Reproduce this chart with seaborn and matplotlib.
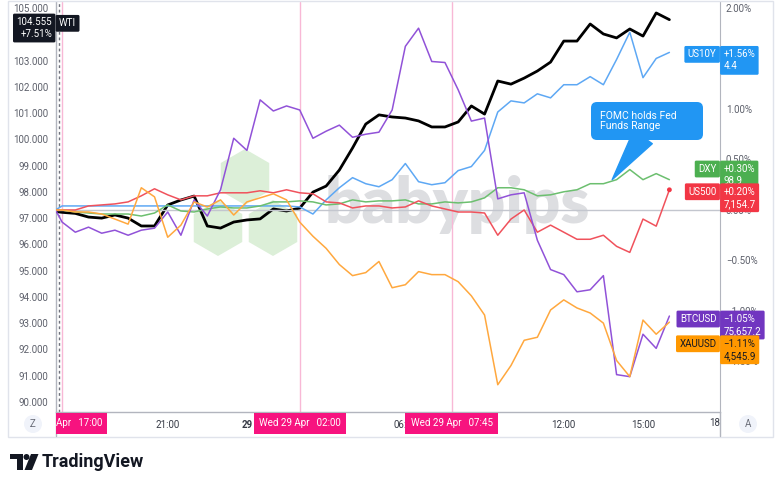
import numpy as np
import pandas as pd
import seaborn as sns
import matplotlib.pyplot as plt
import matplotlib.dates as mdates
import matplotlib.transforms as mtransforms
from matplotlib.patches import Rectangle, RegularPolygon, Circle, Polygon, FancyBboxPatch
from matplotlib.lines import Line2D
from matplotlib.ticker import FuncFormatter

# 30-minute closes, Tue 28 Apr 16:45 -> Wed 29 Apr 16:00
times = pd.to_datetime(['2026-04-28 16:45']).append(
    pd.date_range('2026-04-28 17:00', '2026-04-29 16:00', freq='30min'))

# WTI price (left scale)
wti = [97.25, 97.22, 97.18, 97.04, 97.00, 97.12, 97.00, 96.70, 96.70, 97.50,
       97.69, 97.84, 96.70, 96.62, 96.85, 96.93, 96.97, 97.35, 97.27, 97.38,
       97.99, 98.22, 98.83, 99.67, 100.58, 100.93, 100.85, 100.81, 100.70, 100.47,
       100.47, 100.66, 101.27, 100.96, 102.22, 102.10, 102.33, 102.60, 102.94, 103.74,
       103.74, 104.39, 104.01, 103.86, 104.20, 103.93, 104.81, 104.555]

# comparison symbols, % change (right scale)
us10y = [0.00, 0.04, 0.04, 0.04, 0.04, 0.04, 0.04, 0.04, 0.04, 0.04,
         0.04, 0.04, 0.04, 0.04, 0.04, 0.04, 0.04, 0.04, 0.04, 0.03,
         -0.04, 0.10, 0.22, 0.32, 0.26, 0.23, 0.30, 0.46, 0.28, 0.25,
         0.27, 0.39, 0.43, 0.59, 0.97, 1.08, 1.06, 1.15, 1.11, 1.24,
         1.24, 1.32, 1.24, 1.49, 1.76, 1.31, 1.50, 1.56]
dxy = [0.00, 0.00, -0.02, -0.03, -0.04, -0.04, -0.04, -0.06, -0.03, 0.05,
       -0.01, -0.02, 0.01, 0.03, 0.02, 0.02, 0.04, 0.08, 0.08, 0.09,
       0.08, 0.05, 0.06, 0.10, 0.08, 0.09, 0.09, 0.10, 0.06, 0.06,
       0.08, 0.07, 0.08, 0.12, 0.22, 0.22, 0.20, 0.14, 0.15, 0.18,
       0.20, 0.26, 0.26, 0.30, 0.40, 0.30, 0.36, 0.30]
us500 = [0.00, 0.00, 0.00, 0.04, 0.05, 0.06, 0.08, 0.14, 0.21, 0.15,
         0.10, 0.14, 0.14, 0.17, 0.17, 0.17, 0.19, 0.17, 0.20, 0.17,
         0.16, 0.08, 0.07, 0.02, 0.04, 0.04, 0.02, 0.03, 0.09, 0.04,
         0.01, -0.02, -0.02, -0.03, -0.25, -0.09, 0.00, -0.22, -0.15, -0.22,
         -0.29, -0.29, -0.25, -0.36, -0.42, -0.09, -0.16, 0.20]
btcusd = [0.00, -0.12, -0.22, -0.17, -0.23, -0.20, -0.25, -0.20, -0.18, -0.02,
          -0.25, 0.10, -0.06, 0.20, 0.71, 0.59, 1.09, 0.98, 1.03, 0.99,
          0.71, 0.78, 0.84, 0.72, 0.75, 0.77, 0.99, 1.62, 1.80, 1.47,
          1.46, 1.19, 0.88, 0.91, 0.11, 0.15, 0.17, -0.30, -0.59, -0.64,
          -0.81, -0.79, -0.65, -1.63, -1.65, -1.23, -1.37, -1.05]
xauusd = [0.00, 0.00, -0.02, -0.02, -0.04, -0.09, -0.14, 0.22, 0.13, -0.27,
          -0.15, 0.08, 0.03, 0.10, -0.05, 0.08, 0.12, 0.16, 0.10, -0.12,
          -0.26, -0.38, -0.54, -0.65, -0.62, -0.51, -0.77, -0.74, -0.61, -0.64,
          -0.64, -0.71, -0.85, -1.04, -1.73, -1.54, -1.29, -1.26, -0.99, -0.89,
          -0.97, -1.02, -1.12, -1.49, -1.65, -1.09, -1.23, -1.11]

symbols = ['US10Y', 'DXY', 'US500', 'BTCUSD', 'XAUUSD']
series = [us10y, dxy, us500, btcusd, xauusd]
last_prices = ['4.4', '98.9', '7,154.7', '75,657.2', '4,545.9']
line_colors = ['#5ea8f4', '#6cbf6f', '#f0525c', '#9152d8', '#ffa83e']
box_colors = ['#2196f3', '#4caf50', '#f23645', '#7136c0', '#ff9800']
box_text = ['white', 'white', 'white', 'white', '#131722']
label_nudge = [0.03, 0.155, 0.03, 0.02, -0.165]

# price ticks (104.000 and 1.50% sit under the last-value boxes)
left_ticks = [90, 91, 92, 93, 94, 95, 96, 97, 98, 99, 100, 101, 102, 103, 105]
right_ticks = [-1.5, -1.0, -0.5, 0.0, 0.5, 1.0, 2.0]

x_ticks = pd.to_datetime(['2026-04-28 21:00', '2026-04-29 00:00', '2026-04-29 06:00',
                          '2026-04-29 12:00', '2026-04-29 15:00'])
x_tick_labels = ['21:00', '29', '06:00', '12:00', '15:00']
event_times = pd.to_datetime(['2026-04-28 17:00', '2026-04-29 02:00', '2026-04-29 07:45'])
event_labels = ['Apr   17:00', 'Wed 29 Apr   02:00', 'Wed 29 Apr   07:45']
fomc_time = pd.Timestamp('2026-04-29 13:50')

df = pd.DataFrame({
    'time': np.tile(times, len(symbols)),
    'symbol': np.repeat(symbols, len(times)),
    'pct': np.concatenate(series),
})

sns.set_style('white')
plt.rcParams['font.family'] = ['Roboto', 'DejaVu Sans']

W, H = 780, 487
fig = plt.figure(figsize=(7.8, 4.87), dpi=100)
ax = fig.add_axes([55.5 / W, 75 / H, 664.5 / W, 410 / H])
ax2 = ax.twinx()
px = mtransforms.IdentityTransform()

spine_c = '#b2b5be'
tick_c = '#5d606b'

# watermark
for cx, cy in [(245, 177), (218, 228), (273, 228)]:
    ax.add_patch(RegularPolygon((cx, H - cy), numVertices=6, radius=28, orientation=0,
                                transform=px, fc='#dcefd8', ec='none', zorder=0.3))
ax.text(325, H - 223, 'babypips', transform=px, fontsize=47, fontweight='heavy',
        family='Lato', color='#dddee1', ha='left', va='baseline', zorder=0.4)

# guide lines
ax2.axhline(0, color='#c3c6ce', lw=1, zorder=1)
for t in event_times:
    ax.axvline(t, color='#f8b8d6', lw=1, zorder=1)
ax.axvline(pd.Timestamp('2026-04-28 16:53'), color='#6f727c', lw=1, ls=(0, (2, 2)), zorder=1)

# series
sns.lineplot(x=times, y=wti, ax=ax, color='black', linewidth=2, zorder=3)
sns.lineplot(data=df, x='time', y='pct', hue='symbol', hue_order=symbols,
             palette=dict(zip(symbols, line_colors)), ax=ax2, legend=False,
             linewidth=1.1)
sns.scatterplot(x=times[-1:], y=us500[-1:], ax=ax2, color='#f23645', s=12,
                edgecolor='none', zorder=4)

# axes scales
ax.set_xlim(pd.Timestamp('2026-04-28 16:45'), pd.Timestamp('2026-04-29 17:55'))
ax.set_ylim(89.619, 105.227)
ax2.set_ylim(-2.0, 2.059)
ax.set_xlabel('')
ax.set_ylabel('')
ax2.set_ylabel('')

ax.set_yticks(left_ticks)
ax.yaxis.set_major_formatter(FuncFormatter(lambda v, _: f'{v:.3f}'))
ax2.set_yticks(right_ticks)
ax2.yaxis.set_major_formatter(FuncFormatter(lambda v, _: f'{v:.2f}%'.replace('-', '\u2212')))
ax.set_xticks(x_ticks)
ax.set_xticklabels(x_tick_labels)
ax.get_xticklabels()[1].set_fontweight('bold')
ax.tick_params(axis='y', length=0, pad=5, labelsize=7, labelcolor=tick_c)
ax2.tick_params(axis='y', length=0, pad=4.3, labelsize=7, labelcolor=tick_c)
ax.tick_params(axis='x', length=0, pad=6, labelsize=7, labelcolor='#363a45')
ax.grid(False)
ax2.grid(False)

for s in ['top', 'right']:
    ax.spines[s].set_visible(False)
for s in ['left', 'bottom']:
    ax.spines[s].set_color(spine_c)
    ax.spines[s].set_linewidth(1)
for s in ['left', 'top', 'bottom']:
    ax2.spines[s].set_visible(False)
ax2.spines['right'].set_color(spine_c)

# last-value labels at the right edge
box_style = 'round,pad=0.35,rounding_size=0.15'
blend2 = mtransforms.blended_transform_factory(ax2.transAxes, ax2.transData)
for sym, vals, price, bc, tc, nd in zip(symbols, series, last_prices, box_colors,
                                         box_text, label_nudge):
    y = vals[-1] + nd
    pct = f'{vals[-1]:+.2f}%'.replace('-', '\u2212')
    ax2.annotate(sym, xy=(1, y), xycoords=blend2, xytext=(-2.5, 0),
                 textcoords='offset points', ha='right', va='top', fontsize=7,
                 color=tc, zorder=6, annotation_clip=False,
                 bbox=dict(boxstyle=box_style, fc=bc, ec='none'))
    ax2.annotate(f'{pct}\n{price}', xy=(1, y), xycoords=blend2, xytext=(2.5, 0),
                 textcoords='offset points', ha='left', va='top', fontsize=7,
                 linespacing=1.25, color=tc, zorder=6, annotation_clip=False,
                 bbox=dict(boxstyle=box_style, fc=bc, ec='none'))

# WTI label at the left edge
blend1 = mtransforms.blended_transform_factory(ax.transAxes, ax.transData)
wti_pct = f'{(wti[-1] / wti[0] - 1) * 100:+.2f}%'
ax.annotate(f'{wti[-1]:.3f}\n{wti_pct}', xy=(0, wti[-1] + 0.10), xycoords=blend1,
            xytext=(-2.5, 0), textcoords='offset points', ha='right', va='top',
            multialignment='right', fontsize=7, linespacing=1.25, color='white',
            zorder=6, annotation_clip=False,
            bbox=dict(boxstyle=box_style, fc='#131722', ec='none'))
ax.annotate('WTI', xy=(0, wti[-1] + 0.05), xycoords=blend1, xytext=(2.5, 0),
            textcoords='offset points', ha='left', va='top', fontsize=7, color='white',
            zorder=6, annotation_clip=False,
            bbox=dict(boxstyle=box_style, fc='#131722', ec='none'))

# FOMC callout
ax2.annotate('', xy=(mdates.date2num(fomc_time), dxy[43]), xycoords='data',
             xytext=(643, H - 137), textcoords='figure pixels',
             arrowprops=dict(arrowstyle='wedge,tail_width=2.2,shrink_factor=0.5',
                             fc='#2196f3', ec='#2196f3', shrinkA=0, shrinkB=0),
             fontsize=7.5, zorder=7, annotation_clip=False)
fig.add_artist(FancyBboxPatch((591, H - 140), 112, 38, boxstyle='round,pad=0,rounding_size=6',
                              transform=px, fc='#2196f3', ec='none'))
fig.text(600, H - 121, 'FOMC holds Fed\nFunds Range', transform=px, ha='left', va='center',
         fontsize=7.5, linespacing=1.0, color='white')

# time-axis event boxes (the first one is cut by the price scale)
clip = mtransforms.Bbox.from_extents(56, 0, 720, H)
blendx = mtransforms.blended_transform_factory(ax.transData, ax.transAxes)
first_box = fig.text(0.0, -0.028, event_labels[0], transform=ax.transAxes, ha='left',
                     va='center', fontsize=7, color='white',
                     bbox=dict(boxstyle='square,pad=0.55', fc='#f7137f', ec='none'))
first_box.set_clip_on(True)
first_box.set_clip_box(clip)
for t, lab in zip(event_times[1:], event_labels[1:]):
    fig.text(mdates.date2num(t), -0.028, lab, transform=blendx, ha='center',
             va='center', fontsize=7, color='white',
             bbox=dict(boxstyle='square,pad=0.55', fc='#f7137f', ec='none'))
fig.text(1.0, -0.028, '18', transform=ax.transAxes, ha='right', va='center', fontsize=7,
         color='#363a45')

# panel chrome
fig.add_artist(Rectangle((7.5, H - 436.5), 765, 436, transform=px, fill=False,
                         ec='#e0e3eb', lw=1))
fig.add_artist(Line2D([55.5, 55.5], [H - 436, H - 412], transform=px, color=spine_c, lw=1))
fig.add_artist(Line2D([720, 720], [H - 436, H - 412], transform=px, color=spine_c, lw=1))
for cx, letter in [(33, 'Z'), (748, 'A')]:
    fig.add_artist(Circle((cx, H - 424), 9, transform=px, fc='#f0f3fa', ec='none'))
    fig.text(cx, H - 424, letter, transform=px, ha='center', va='center', fontsize=7,
             color='#6a6d78')

# TradingView logo
logo = [[(10, 454), (23, 454), (23, 470), (17, 470), (17, 459), (10, 459)],
        [(31, 454), (38.5, 454), (32, 470), (24.5, 470)]]
for poly in logo:
    fig.add_artist(Polygon([(x, H - y) for x, y in poly], closed=True, transform=px,
                           fc='#131722', ec='none'))
fig.add_artist(Circle((26.5, H - 457), 3, transform=px, fc='#131722', ec='none'))
fig.text(42, H - 462, 'TradingView', transform=px, ha='left', va='center', fontsize=13,
         fontweight='bold', color='#131722')

fig.savefig('out.png', dpi=100)
